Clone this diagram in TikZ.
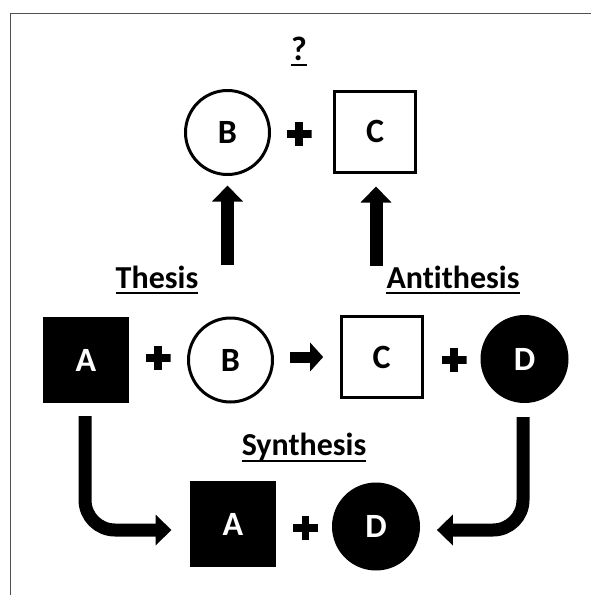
\documentclass[tikz,border=0pt]{standalone}
\usepackage{fontspec}
\setmainfont{Carlito}[Ligatures=NoCommon]
\usetikzlibrary{arrows.meta,calc}
\newcommand{\letterfont}{\fontsize{34}{40}\selectfont\bfseries}
\newcommand{\titlefont}{\fontsize{32}{38}\selectfont\bfseries}
\tikzset{
  ring/.style={circle, draw, line width=3pt, minimum size=84pt, inner sep=0pt, font=\letterfont},
  openbox/.style={rectangle, draw, line width=3pt, minimum size=81pt, inner sep=0pt, font=\letterfont},
  solidbox/.style={rectangle, fill=black, minimum size=86pt, inner sep=0pt, text=white, font=\letterfont},
  solidring/.style={circle, fill=black, minimum size=88pt, inner sep=0pt, text=white, font=\letterfont},
  plussign/.style={minimum width=25pt, minimum height=24pt, inner sep=0pt,
    path picture={
      \fill ([yshift=-3.75pt]path picture bounding box.west) rectangle ([yshift=3.75pt]path picture bounding box.east);
      \fill ([xshift=-3.75pt]path picture bounding box.south) rectangle ([xshift=3.75pt]path picture bounding box.north);
    }},
  heading/.style={font=\titlefont, inner sep=0pt, anchor=base},
  uline/.style={line width=2pt},
  fat/.style={line width=13pt, -{Triangle[width=30pt,length=16pt]}},
  slim/.style={line width=11pt, -{Triangle[width=28pt,length=13pt]}},
  frame/.style={line width=1.3pt, color={rgb,255:red,80;green,80;blue,80}},
}
\begin{document}
\begin{tikzpicture}[x=1pt, y=-1pt]
\useasboundingbox (0,0) rectangle (591,595);
\draw[frame] (10.7,595) -- (10.7,13.7) -- (591,13.7);

% top row: the open question
\node[heading, font=\letterfont] (q) at (299,60) {?};
\draw[uline] ($(q.base west)+(0,5)$) -- ($(q.base east)+(0,5)$);
\node[ring] (topB) at (227.5,132.5) {B};
\node[plussign] (p1) at (299,134) {};
\node[openbox] (topC) at (375,131.5) {C};

% middle row: thesis and antithesis
\node[heading] (thesis) at (157,288) {Thesis};
\draw[uline] ($(thesis.base west)+(0,5)$) -- ($(thesis.base east)+(0,5)$);
\node[heading] (anti) at (453,288) {Antithesis};
\draw[uline] ($(anti.base west)+(0,5)$) -- ($(anti.base east)+(0,5)$);

\node[solidbox] (midA) at (86,360) {A};
\node[plussign] (p2) at (158,358) {};
\node[ring] (midB) at (230.5,360) {B};
\node[openbox] (midC) at (381.5,357) {C};
\node[plussign] (p3) at (454,360) {};
\node[solidring] (midD) at (524.5,359) {D};

% bottom row: synthesis
\node[heading] (synth) at (304,455) {Synthesis};
\draw[uline] ($(synth.base west)+(0,6)$) -- ($(synth.base east)+(0,6)$);
\node[solidbox] (botA) at (233,524) {A};
\node[plussign] (p4) at (305.5,528) {};
\node[solidring] (botD) at (376,526.5) {D};

% connectors
\draw[fat] ($(topB.south)+(0,88.5)$) -- ($(topB.south)+(0,9.5)$);
\draw[fat] ($(topC.south)+(1,92)$) -- ($(topC.south)+(1,13)$);
\draw[slim] ($(midB.east)+(15.5,-3)$) -- ($(midC.west)+(-16.3,0)$);
\draw[fat, rounded corners=30pt] ($(midA.south)+(-1,13)$) |- ($(botA.west)+(-18.3,6)$);
\draw[fat, rounded corners=30pt] ($(midD.south)+(-1.5,14)$) |- ($(botD.east)+(16.7,3.5)$);
\end{tikzpicture}
\end{document}
